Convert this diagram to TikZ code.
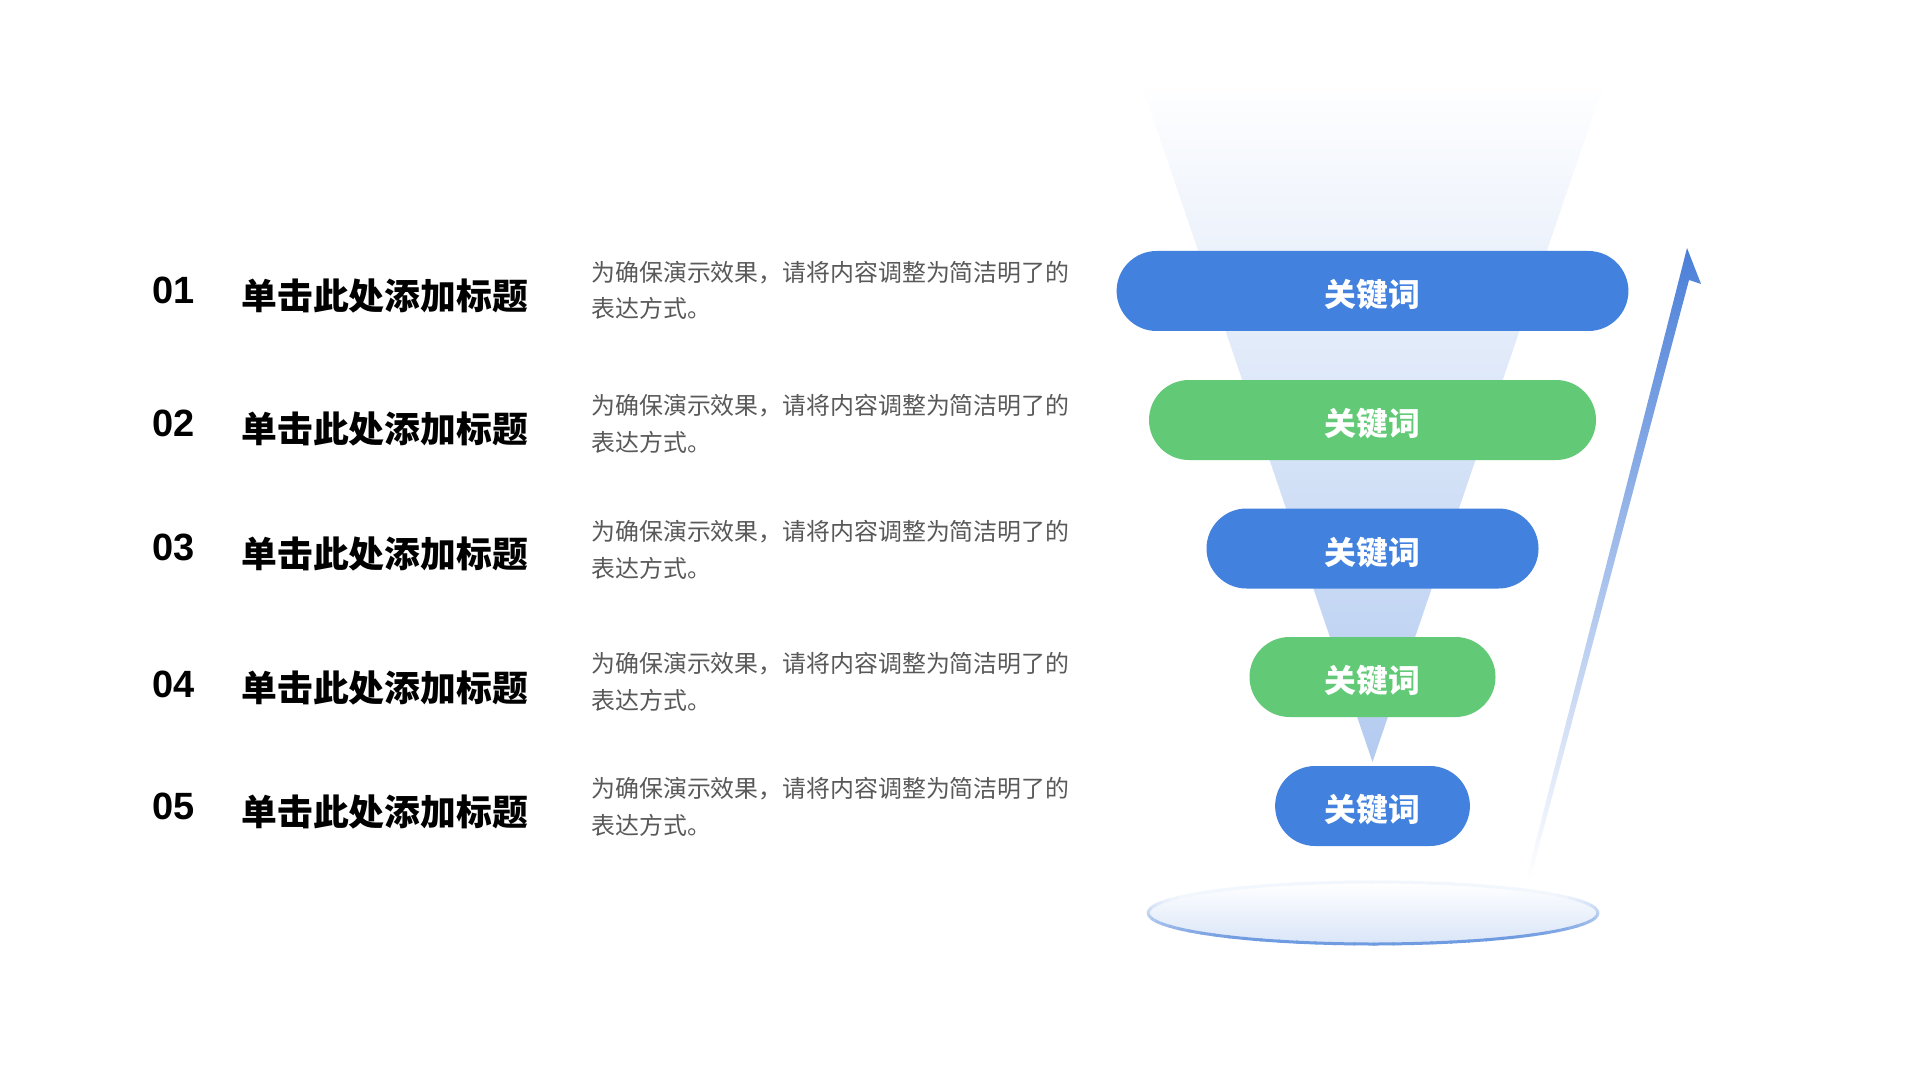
\documentclass[tikz,border=0pt]{standalone}
\usepackage{fontspec}
\setmainfont{Liberation Sans}
\newfontfamily\cjk{Noto Sans CJK SC}
\definecolor{pblue}{HTML}{4281DE}
\definecolor{pgreen}{HTML}{62CA77}
\definecolor{desc}{HTML}{595959}
\definecolor{funnel}{HTML}{B3CBF0}
\definecolor{arrowc}{HTML}{4A7FD8}
\definecolor{ellA}{HTML}{F2F6FD}
\definecolor{ellB}{HTML}{6F9BE0}
\definecolor{ellfill}{HTML}{D9E5F8}
\newcommand\pilltext{\raisebox{-1.8pt}[\height][\depth]{关键词}}
\begin{document}
\begin{tikzpicture}[x=0.5pt,y=-0.5pt,
  num/.style={anchor=base west, inner sep=0pt, font=\fontsize{19}{19}\selectfont\bfseries, text=black},
  ttl/.style={anchor=base west, inner sep=0pt, font=\cjk\bfseries\fontsize{17.9}{18}\selectfont, text=black},
  dsc/.style={anchor=base west, inner sep=0pt, font=\cjk\fontsize{11.95}{12}\selectfont, text=desc},
  pill/.style={rectangle, rounded corners=20pt, minimum height=40pt, inner sep=0pt, text=white, font=\cjk\bfseries\fontsize{15.9}{16}\selectfont},
]
\fill[white] (0,0) rectangle (1920,1080);
\useasboundingbox (0,0) rectangle (1920,1080);

% funnel
\shade[top color=white, bottom color=funnel] (1140,80) -- (1605,80) -- (1372.5,762) -- cycle;

% arrow
\shade[top color=arrowc, bottom color=white] (1687,248) -- (1701,284) -- (1689,280) -- (1530,880) -- (1526,880) -- cycle;

% base ellipse
\coordinate (base) at (1373,913);
\shade[top color=white, bottom color=ellfill] (base) ellipse [x radius=112.5pt, y radius=15.5pt];
\foreach \a in {0,5,...,355} {
  \pgfmathtruncatemacro\p{max(0,min(100,40-75*sin(\a)))}
  \draw[line width=1.5pt, color=ellB!\p!ellA] (base) ++(\a:112.5pt and 15.5pt) arc[start angle=\a, delta angle=5.5, x radius=112.5pt, y radius=15.5pt];
}

% pills
\node[pill, fill=pblue,  minimum width=255.9pt] (p1) at (1372.5,291) {\pilltext};
\node[pill, fill=pgreen, minimum width=223.5pt] (p2) at (1372.5,420) {\pilltext};
\node[pill, fill=pblue,  minimum width=166pt]   (p3) at (1372.5,548.5) {\pilltext};
\node[pill, fill=pgreen, minimum width=123pt]   (p4) at (1372.5,677) {\pilltext};
\node[pill, fill=pblue,  minimum width=97.4pt]  (p5) at (1372.5,806) {\pilltext};

% rows
\node[num] (n1) at (152,303.5) {01};
\node[num] (n2) at (152,436) {02};
\node[num] (n3) at (152,560.5) {03};
\node[num] (n4) at (152,697.5) {04};
\node[num] (n5) at (152,819.2) {05};

\node[ttl] (t1) at (241,309.6) {单击此处添加标题};
\node[ttl] (t2) at (241,442.2) {单击此处添加标题};
\node[ttl] (t3) at (241,567.6) {单击此处添加标题};
\node[ttl] (t4) at (241,701.6) {单击此处添加标题};
\node[ttl] (t5) at (241,825.4) {单击此处添加标题};

\node[dsc] (d1a) at (591,281.1) {为确保演示效果，请将内容调整为简洁明了的};
\node[dsc] (d1b) at (591,317.8) {表达方式。};
\node[dsc] (d2a) at (591,414.4) {为确保演示效果，请将内容调整为简洁明了的};
\node[dsc] (d2b) at (591,451.1) {表达方式。};
\node[dsc] (d3a) at (591,540.8) {为确保演示效果，请将内容调整为简洁明了的};
\node[dsc] (d3b) at (591,577.5) {表达方式。};
\node[dsc] (d4a) at (591,672.4) {为确保演示效果，请将内容调整为简洁明了的};
\node[dsc] (d4b) at (591,709.1) {表达方式。};
\node[dsc] (d5a) at (591,797.7) {为确保演示效果，请将内容调整为简洁明了的};
\node[dsc] (d5b) at (591,834.4) {表达方式。};
\end{tikzpicture}
\end{document}
